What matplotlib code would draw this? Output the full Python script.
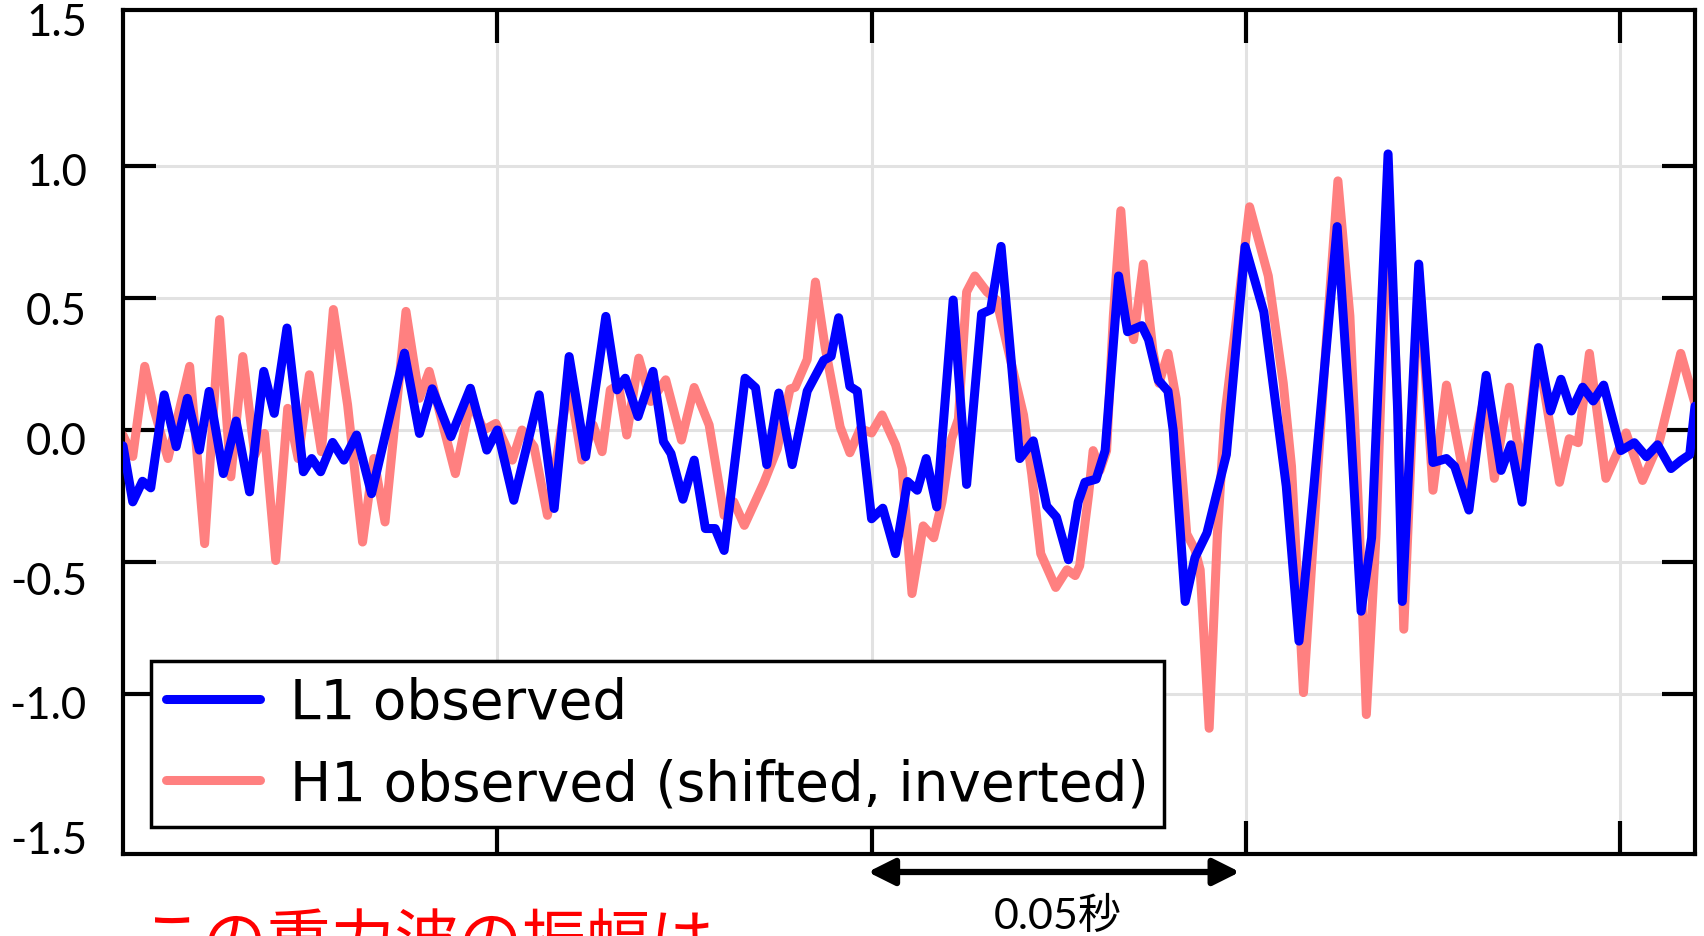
import matplotlib
matplotlib.use('Agg')
from matplotlib import pyplot as plt
from matplotlib import transforms

# L1 strain (blue)
l1_t = [0.2500, 0.2513, 0.2526, 0.2537, 0.2555, 0.2571, 0.2586, 0.2602, 0.2615, 0.2634,
        0.2651, 0.2669, 0.2688, 0.2702, 0.2719, 0.2741, 0.2752, 0.2764, 0.2780, 0.2795,
        0.2812, 0.2832, 0.2876, 0.2896, 0.2913, 0.2938, 0.2964, 0.2986, 0.3000, 0.3022,
        0.3056, 0.3076, 0.3096, 0.3118, 0.3145, 0.3160, 0.3171, 0.3188, 0.3208, 0.3222,
        0.3232, 0.3248, 0.3263, 0.3278, 0.3291, 0.3303, 0.3331, 0.3345, 0.3360, 0.3376,
        0.3394, 0.3414, 0.3436, 0.3446, 0.3456, 0.3471, 0.3481, 0.3500, 0.3515, 0.3532,
        0.3548, 0.3561, 0.3573, 0.3587, 0.3609, 0.3627, 0.3647, 0.3659, 0.3673, 0.3685,
        0.3698, 0.3716, 0.3734, 0.3747, 0.3763, 0.3776, 0.3785, 0.3800, 0.3812, 0.3830,
        0.3842, 0.3861, 0.3870, 0.3883, 0.3896, 0.3903, 0.3919, 0.3932, 0.3948, 0.3974,
        0.3999, 0.4024, 0.4054, 0.4071, 0.4090, 0.4122, 0.4139, 0.4154, 0.4168, 0.4190,
        0.4203, 0.4209, 0.4231, 0.4250, 0.4268, 0.4279, 0.4298, 0.4321, 0.4341, 0.4354,
        0.4369, 0.4391, 0.4407, 0.4421, 0.4435, 0.4450, 0.4464, 0.4478, 0.4501, 0.4519,
        0.4535, 0.4550, 0.4568, 0.4581, 0.4593, 0.4600]
l1_y = [-0.06, -0.272, -0.194, -0.219, 0.133, -0.063, 0.120, -0.076, 0.146, -0.165,
        0.034, -0.234, 0.222, 0.063, 0.386, -0.158, -0.108, -0.158, -0.047, -0.114,
        -0.019, -0.241, 0.291, -0.013, 0.156, -0.025, 0.158, -0.076, 0.000, -0.266,
        0.133, -0.297, 0.278, -0.101, 0.430, 0.152, 0.196, 0.051, 0.222, -0.044,
        -0.089, -0.262, -0.114, -0.373, -0.373, -0.456, 0.196, 0.160, -0.131, 0.140,
        -0.131, 0.147, 0.264, 0.279, 0.425, 0.165, 0.147, -0.336, -0.296, -0.468,
        -0.195, -0.228, -0.108, -0.291, 0.492, -0.206, 0.440, 0.455, 0.695, 0.312,
        -0.108, -0.041, -0.288, -0.330, -0.491, -0.273, -0.198, -0.186, -0.078, 0.583,
        0.372, 0.395, 0.342, 0.189, 0.147, -0.003, -0.649, -0.483, -0.390, -0.093,
        0.695, 0.447, -0.213, -0.799, -0.243, 0.770, 0.057, -0.686, -0.408, 1.045,
        0.057, -0.649, 0.628, -0.123, -0.108, -0.138, -0.303, 0.207, -0.153, -0.056,
        -0.273, 0.312, 0.072, 0.192, 0.072, 0.162, 0.110, 0.170, -0.078, -0.048,
        -0.101, -0.056, -0.146, -0.116, -0.093, 0.090]

# H1 strain, shifted and inverted (pink)
h1_t = [0.2500, 0.2513, 0.2529, 0.2541, 0.2560, 0.2589, 0.2609, 0.2629, 0.2644, 0.2660,
        0.2676, 0.2689, 0.2704, 0.2720, 0.2734, 0.2749, 0.2765, 0.2781, 0.2800, 0.2820,
        0.2835, 0.2850, 0.2878, 0.2896, 0.2909, 0.2944, 0.2964, 0.2982, 0.2998, 0.3020,
        0.3033, 0.3049, 0.3067, 0.3085, 0.3096, 0.3113, 0.3128, 0.3140, 0.3151, 0.3162,
        0.3173, 0.3189, 0.3205, 0.3225, 0.3246, 0.3263, 0.3283, 0.3303, 0.3316, 0.3330,
        0.3356, 0.3374, 0.3391, 0.3398, 0.3414, 0.3425, 0.3438, 0.3458, 0.3471, 0.3485,
        0.3500, 0.3514, 0.3532, 0.3541, 0.3554, 0.3569, 0.3583, 0.3594, 0.3607, 0.3616,
        0.3627, 0.3638, 0.3654, 0.3667, 0.3683, 0.3703, 0.3714, 0.3726, 0.3746, 0.3761,
        0.3772, 0.3778, 0.3790, 0.3796, 0.3805, 0.3814, 0.3823, 0.3833, 0.3843, 0.3850,
        0.3863, 0.3876, 0.3884, 0.3896, 0.3907, 0.3921, 0.3932, 0.3939, 0.3951, 0.3962,
        0.3972, 0.3988, 0.4005, 0.4030, 0.4050, 0.4061, 0.4077, 0.4094, 0.4108, 0.4123,
        0.4139, 0.4152, 0.4161, 0.4174, 0.4190, 0.4203, 0.4211, 0.4231, 0.4250, 0.4268,
        0.4294, 0.4319, 0.4332, 0.4352, 0.4370, 0.4390, 0.4419, 0.4432, 0.4444, 0.4459,
        0.4481, 0.4508, 0.4530, 0.4552, 0.4581, 0.4600]
h1_y = [-0.02, -0.10, 0.241, 0.082, -0.108, 0.241, -0.430, 0.418, -0.177, 0.278,
        -0.095, -0.013, -0.494, 0.082, -0.108, 0.209, -0.082, 0.456, 0.095, -0.424,
        -0.108, -0.348, 0.449, 0.120, 0.222, -0.165, 0.108, 0.000, 0.025, -0.114,
        0.000, -0.063, -0.323, -0.006, 0.184, -0.114, 0.019, -0.082, 0.152, 0.171,
        -0.019, 0.272, 0.108, 0.190, -0.038, 0.161, 0.019, -0.323, -0.272, -0.361,
        -0.200, -0.071, 0.155, 0.162, 0.267, 0.560, 0.312, 0.012, -0.086, 0.005,
        -0.011, 0.057, -0.056, -0.146, -0.619, -0.363, -0.408, -0.273, -0.033, 0.042,
        0.523, 0.583, 0.523, 0.492, 0.297, 0.057, -0.168, -0.468, -0.596, -0.529,
        -0.551, -0.514, -0.243, -0.078, -0.153, -0.078, 0.432, 0.830, 0.447, 0.342,
        0.628, 0.297, 0.177, 0.290, 0.117, -0.393, -0.453, -0.529, -1.129, -0.393,
        0.057, 0.432, 0.845, 0.583, 0.177, -0.138, -0.994, -0.243, 0.357, 0.943,
        0.432, -0.393, -1.077, -0.393, 0.913, 0.087, -0.754, 0.598, -0.228, 0.170,
        -0.213, 0.132, -0.183, 0.162, -0.183, 0.297, -0.198, -0.033, -0.048, 0.290,
        -0.183, -0.011, -0.191, -0.048, 0.290, 0.100]

x_ticks = [0.30, 0.35, 0.40, 0.45]
y_ticks = [-1.0, -0.5, 0.0, 0.5, 1.0]
y_labels = ['-1.0', '-0.5', '0.0', '0.5', '1.0']
y_edge_ticks = [-1.5, 1.5]
y_edge_labels = ['-1.5', '1.5']

fig = plt.figure(figsize=(17.04, 9.37), dpi=100)
ax = fig.add_axes([0.0722, 0.0875, 0.9225, 0.9008])

h1_line, = ax.plot(h1_t, h1_y, color='#ff8080', lw=6.5, solid_joinstyle='round',
                   solid_capstyle='round', label='H1 observed (shifted, inverted)', zorder=2)
l1_line, = ax.plot(l1_t, l1_y, color='#0000ff', lw=6.5, solid_joinstyle='round',
                   solid_capstyle='round', label='L1 observed', zorder=3)

ax.set_xlim(0.25, 0.46)
ax.set_ylim(-1.605, 1.59)
ax.set_xticks(x_ticks)
ax.set_yticks(y_ticks)
ax.set_yticklabels(y_labels)
ax.set_yticks(y_edge_ticks, minor=True)
ax.set_yticklabels(y_edge_labels, minor=True)
ax.set_axisbelow(True)
ax.grid(True, which='major', color='#e2e2e2', lw=2.2)

ax.tick_params(which='major', direction='in', length=24, width=3, top=True, right=True,
               labelbottom=False, pad=26, labelsize=31.5)
ax.tick_params(which='minor', length=0, pad=26, labelsize=31.5)
for lab in ax.get_yticklabels() + ax.get_yticklabels(minor=True):
    lab.set_family('Lato')

# the labels in the picture sit a little off their ticks
major_dy = [7, 15, 7, 10, 3]
minor_dy = [10, -15]
for lab, dy in zip(ax.yaxis.get_majorticklabels(), major_dy):
    lab.set_transform(lab.get_transform() + transforms.ScaledTranslation(0, -dy / 100, fig.dpi_scale_trans))
for lab, dy in zip(ax.yaxis.get_minorticklabels(), minor_dy):
    lab.set_transform(lab.get_transform() + transforms.ScaledTranslation(0, -dy / 100, fig.dpi_scale_trans))

for s in ax.spines.values():
    s.set_linewidth(3)

leg = ax.legend(handles=[l1_line, h1_line], loc='lower left', bbox_to_anchor=(0.0178, 0.032),
                borderaxespad=0, prop={'family': 'DejaVu Sans', 'size': 39.5}, fancybox=False,
                framealpha=1, edgecolor='black', handlelength=1.7, handletextpad=0.55,
                borderpad=0.28, labelspacing=0.5)
leg.get_frame().set_linewidth(2.5)

# 0.05 s scale arrow under the axes
ax.annotate('', xy=(0.3992, -0.0213), xytext=(0.3495, -0.0213),
            xycoords=ax.get_xaxis_transform(), textcoords=ax.get_xaxis_transform(),
            arrowprops=dict(arrowstyle='<|-|>,head_length=0.8,head_width=0.4', color='black',
                            lw=4.5, shrinkA=0, shrinkB=0, mutation_scale=20),
            annotation_clip=False)
fig.text(0.6209, 0.0225, '0.05秒', ha='center', va='center', size=31,
         family=['Lato', 'Noto Sans CJK JP'])

# caption runs off the bottom edge, as in the original slide
fig.text(0.082, -0.0275, 'この重力波の振幅は', ha='left', va='baseline', size=46,
         color='#ff0000', family=['Noto Sans CJK JP'])

fig.savefig('out.png', dpi=100)
